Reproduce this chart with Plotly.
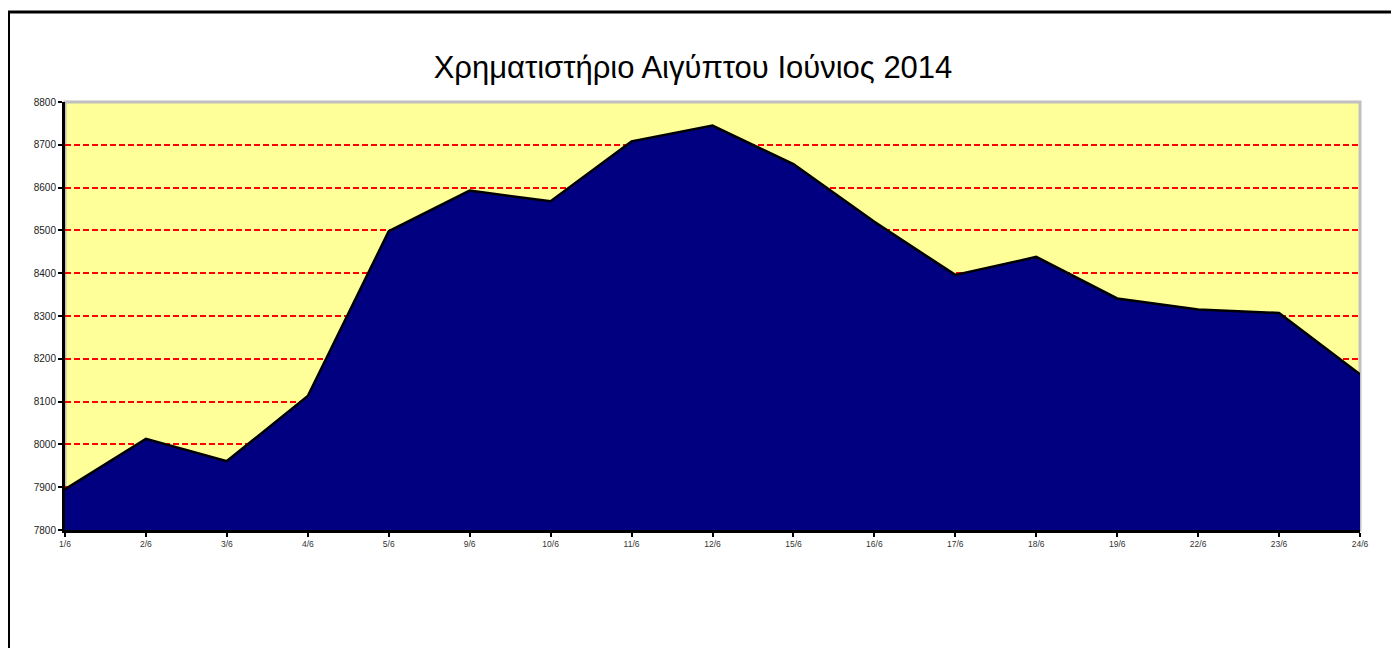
import plotly.graph_objects as go

dates = ["1/6", "2/6", "3/6", "4/6", "5/6", "9/6", "10/6", "11/6", "12/6",
         "15/6", "16/6", "17/6", "18/6", "19/6", "22/6", "23/6", "24/6"]
index_values = [7895, 8013, 7961, 8113, 8498, 8593, 8568, 8708, 8745,
                8655, 8520, 8396, 8438, 8341, 8315, 8307, 8164]
y_ticks = [7800, 7900, 8000, 8100, 8200, 8300, 8400, 8500, 8600, 8700, 8800]
title_text = "Χρηματιστήριο Αιγύπτου Ιούνιος 2014"

# page body has an 8px margin, so figure pixel = screen pixel - 8
W, H = 1391, 640
L, R, T, B = 57, 39, 94, 118
pw, ph = W - L - R, H - T - B

def px_x(p):
    return (p - L) / pw

def px_y(p):
    return (H - B - p) / ph

fig = go.Figure()
fig.add_trace(go.Scatter(
    x=list(range(len(dates))), y=index_values,
    mode="lines", fill="tozeroy", fillcolor="#000080",
    line=dict(color="black", width=2.5),
    hoverinfo="x+y", showlegend=False,
))

fig.update_layout(
    width=W, height=H,
    margin=dict(l=L, r=R, t=T, b=B),
    paper_bgcolor="white", plot_bgcolor="#FFFF99",
    title=dict(text=title_text, x=685 / W, xanchor="center",
               y=1 - 59 / H, yanchor="middle", yref="container",
               font=dict(family="Liberation Sans Narrow, Arial Narrow, Liberation Sans, Arial, sans-serif",
                         size=31, color="black")),
    xaxis=dict(
        range=[0, len(dates) - 1],
        tickmode="array", tickvals=list(range(len(dates))), ticktext=dates,
        showgrid=False, zeroline=False,
        showline=True, linecolor="black", linewidth=3,
        ticks="outside", ticklen=4, tickwidth=2, tickcolor="black",
        tickfont=dict(family="Liberation Sans, Arial, sans-serif", size=8.5, color="#333"),
        fixedrange=True,
    ),
    yaxis=dict(
        range=[7800, 8800],
        tickmode="array", tickvals=y_ticks,
        showgrid=True, gridcolor="red", gridwidth=2, griddash="6px,3px",
        zeroline=False,
        showline=True, linecolor="black", linewidth=3,
        ticks="outside", ticklen=4, tickwidth=2, tickcolor="black",
        tickfont=dict(family="Liberation Sans, Arial, sans-serif", size=10, color="#222"),
        fixedrange=True,
    ),
    shapes=[
        dict(type="rect", xref="paper", yref="paper",
             x0=0, x1=1, y0=0, y1=1,
             line=dict(color="#C0C0C0", width=3), layer="below"),
        dict(type="rect", xref="paper", yref="paper",
             x0=px_x(0.5), x1=px_x(1386), y0=px_y(660), y1=px_y(4),
             line=dict(color="black", width=3), fillcolor="rgba(0,0,0,0)", layer="above"),
    ],
)

fig.write_html("out.html")
